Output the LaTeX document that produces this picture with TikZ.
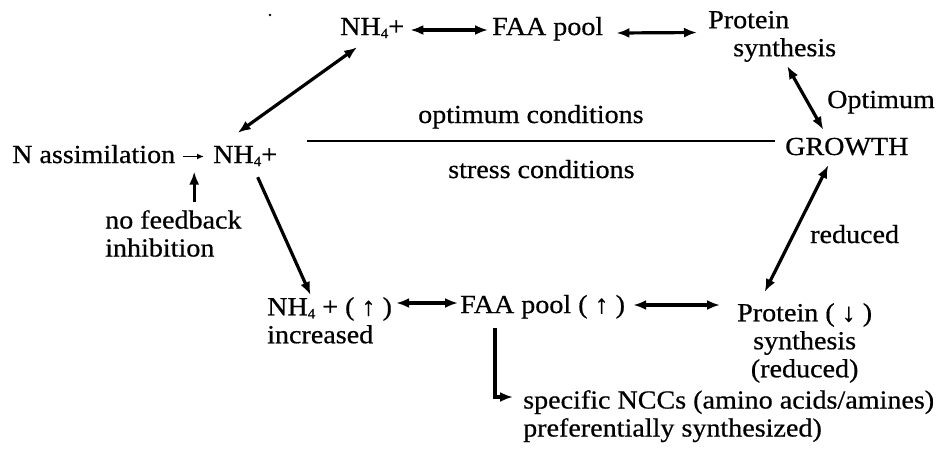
\documentclass[tikz,border=0pt]{standalone}
\usepackage{fontspec}
\setmainfont[FakeStretch=1.08,FakeBold=0.6]{Liberation Serif}
\usetikzlibrary{arrows.meta,calc}
\newcommand{\subfour}{\raisebox{-3pt}{\fontsize{14}{14}\selectfont 4}}
\begin{document}
\begin{tikzpicture}[x=1pt,y=-1pt,
  txt/.style={inner sep=0pt, font=\fontsize{26}{28}\selectfont, text height=18pt, text depth=5pt, anchor=base west},
  mtxt/.style={inner sep=0pt, font=\fontsize{26}{28}\selectfont, align=#1},
  dbl/.style={line width=3.2pt, {Latex[length=13pt,width=10pt]}-{Latex[length=13pt,width=10pt]}},
  one/.style={line width=3.2pt, -{Latex[length=13pt,width=10pt]}},
  thin/.style={line width=1.5pt, -{Latex[length=7pt,width=6pt]}},
  sep/.style={line width=2pt}
]
\useasboundingbox (0,0) rectangle (936,451);

% top row
\node[txt] (nh4top) at (340,35) {NH\subfour+};
\node[txt] (faatop) at (492,35) {FAA pool};
\node[mtxt=left, anchor=north west] (prot) at (708,10) {\rule{0pt}{18pt}Protein\\\hspace*{25pt}synthesis};
\node[txt] (optl) at (827,108) {Optimum};
\node[txt] (growth) at (785,155) {GROWTH};

% middle
\node[txt] (optc) at (418,123) {optimum conditions};
\node[txt] (strc) at (448,178) {stress conditions};
\node[txt] (nassim) at (12,163) {N assimilation};
\node[txt] (nh4mid) at (213,163) {NH\subfour+};
\node[mtxt=left, anchor=north west] (nofb) at (105,210) {\rule{0pt}{18pt}no feedback\\inhibition};
\node[txt] (redl) at (810,243) {reduced};

% bottom
\node[mtxt=left, anchor=north west] (nh4inc) at (267,297) {\rule{0pt}{18pt}NH\subfour{} + ( ↑ )\\increased};
\node[txt] (faainc) at (460,313) {FAA pool ( ↑ )};
\node[mtxt=center, anchor=north west] (protred) at (737,303) {\rule{0pt}{18pt}Protein ( ↓ )\\synthesis\\(reduced)};
\node[mtxt=left, anchor=north west] (ncc) at (523,390) {\rule{0pt}{18pt}specific NCCs (amino acids/amines)\\preferentially synthesized)};

% stray dot
\fill (270,15) circle (1.4);

% separator line
\coordinate (hl) at (307,141);
\draw[sep] (hl) -- ($(hl -| growth.west)+(-10,0)$);

% connectors
\draw[dbl] ($(nh4top.east)+(6,1.5)$) -- ($(faatop.west)+(-4,1.5)$);
\draw[dbl] ($(faatop.east)+(13,4.5)$) -- ($(prot.west)+(-11,-3.5)$);
\draw[dbl] ($(prot.south)+(15,4)$) -- ($(growth.north)+(-23.5,-7)$);
\draw[dbl] ($(nh4top.south)+(-15,7)$) -- ($(nh4mid.north)+(-7.5,-12)$);
\draw[one] ($(nh4mid.south)+(12.5,9)$) -- ($(nh4inc.north)+(-19,-2)$);
\draw[dbl] ($(nh4inc.north east)+(4,6)$) -- ($(faainc.west)+(-2,-3.5)$);
\draw[dbl] ($(faainc.east)+(8,-1.5)$) -- ($(protred.north west)+(-17,2)$);
\draw[dbl] ($(protred.north)+(-40,-11)$) -- ($(growth.south)+(-18.5,5)$);
\draw[one] ($(faainc.south west)+(35,10)$) |- ($(ncc.north west)+(-10,7)$);
\draw[thin, shorten <=8pt, shorten >=9pt] (nassim.east) -- (nh4mid.west);
\coordinate (fbtip) at ($(nassim.east)!0.5!(nh4mid.west)+(0,15)$);
\draw[one] ($(fbtip |- nofb.north)+(0,-8)$) -- (fbtip);
\end{tikzpicture}
\end{document}
